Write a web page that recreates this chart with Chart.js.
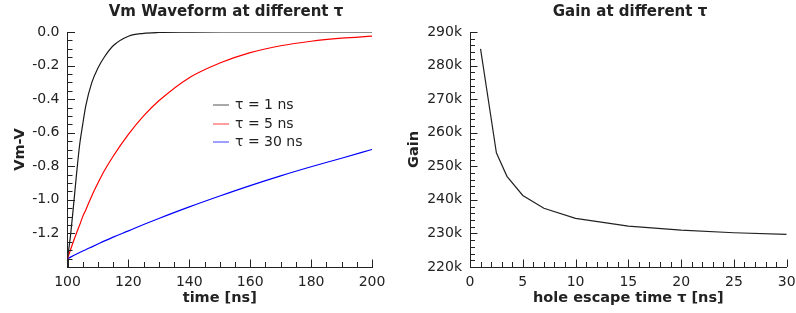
<!DOCTYPE html>
<html><head><meta charset="utf-8">
<script src="https://cdn.jsdelivr.net/npm/chart.js@4.4.1/dist/chart.umd.min.js"></script>
<style>
html,body{margin:0;padding:0;background:#fff;width:796px;height:313px;overflow:hidden}
.c{position:absolute;top:0;width:398px;height:313px}
</style></head><body>
<div class="c" style="left:0"><canvas id="c1" width="398" height="313"></canvas></div>
<div class="c" style="left:398px"><canvas id="c2" width="398" height="313"></canvas></div>
<script>
// ---- data: left chart (Vm waveform) ----
const timeNs  = [100,101,102,103,104,105,106,108,110,112,115,120,125,130,140,150,160,170,180,190,200];
const vmTau1  = [-1.35,-1.21,-1.03,-0.84,-0.67,-0.55,-0.44,-0.30,-0.215,-0.152,-0.082,-0.025,-0.008,-0.003,-0.001,0,0,0,0,0,0];
const vmTau5  = [-1.35,-1.297,-1.245,-1.196,-1.149,-1.10,-1.06,-0.975,-0.90,-0.83,-0.74,-0.61,-0.50,-0.41,-0.272,-0.185,-0.123,-0.082,-0.055,-0.037,-0.025];
const vmTau30 = [-1.35,-1.341,-1.332,-1.323,-1.314,-1.305,-1.297,-1.28,-1.263,-1.246,-1.222,-1.185,-1.147,-1.111,-1.042,-0.977,-0.915,-0.857,-0.803,-0.752,-0.70];
const seriesLabels = ['τ = 1 ns','τ = 5 ns','τ = 30 ns'];
// ---- data: right chart (Gain) ----
const tauNs = [1,2.5,3.5,5,7,10,15,20,25,30];
const gainValues = [285000,254000,247000,241300,237500,234500,232200,231000,230200,229700];

const FONT = '"DejaVu Sans", sans-serif';
const TXT = '#222';
const toXY = (xs, ys) => xs.map((x, i) => ({x, y: ys[i]}));

const innerTicks = {
  id: 'innerTicks',
  afterDatasetsDraw(chart, args, o) {
    const ctx = chart.ctx, a = chart.chartArea;
    const xs = chart.scales.x, ys = chart.scales.y;
    ctx.save();
    ctx.strokeStyle = TXT; ctx.lineWidth = 1;
    const walk = (s, minor, major, fn) => {
      const k0 = Math.round(s.min / minor), k1 = Math.round(s.max / minor);
      for (let k = k0; k <= k1; k++) {
        const v = k * minor, r = v / major;
        fn(s.getPixelForValue(v), Math.abs(r - Math.round(r)) < 1e-6 ? 7.5 : 5);
      }
    };
    walk(xs, o.xMinor, o.xMajor, (p, l) => { const x = Math.round(p) + 0.5; ctx.beginPath(); ctx.moveTo(x, a.bottom); ctx.lineTo(x, a.bottom - l); ctx.stroke(); });
    walk(ys, o.yMinor, o.yMajor, (p, l) => { const y = Math.round(p) + 0.5; ctx.beginPath(); ctx.moveTo(a.left, y); ctx.lineTo(a.left + l, y); ctx.stroke(); });
    ctx.restore();
  }
};
const plotTitle = {
  id: 'plotTitle',
  afterDraw(chart, args, o) {
    const ctx = chart.ctx;
    ctx.save();
    ctx.font = 'bold 15px ' + FONT; ctx.fillStyle = TXT;
    ctx.textAlign = 'center'; ctx.textBaseline = 'middle';
    ctx.fillText(o.text, o.x, o.y);
    ctx.restore();
  }
};
const innerLegend = {
  id: 'innerLegend',
  afterDraw(chart, args, o) {
    const ctx = chart.ctx;
    ctx.save();
    ctx.font = '14px ' + FONT; ctx.textAlign = 'left'; ctx.textBaseline = 'middle';
    chart.data.datasets.forEach((ds, i) => {
      const y = Math.round(o.y + i * o.gap);
      ctx.strokeStyle = ds.borderColor; ctx.globalAlpha = 0.75; ctx.lineWidth = 1;
      ctx.beginPath(); ctx.moveTo(o.x, y); ctx.lineTo(o.x + 16, y); ctx.stroke();
      ctx.globalAlpha = 1;
      ctx.fillStyle = TXT; ctx.fillText(ds.label, o.x + 22, y);
    });
    ctx.restore();
  }
};

function axisBase(extra) {
  return Object.assign({
    type: 'linear',
    grid: { display: false, drawTicks: false },
    border: { display: true, color: TXT, width: 1 },
  }, extra);
}
const fixX = h => s => { s.height = h; s.paddingLeft = 0; s.paddingRight = 0; };

new Chart(document.getElementById('c1'), {
  type: 'line',
  data: {
    datasets: [
      { label: seriesLabels[0], data: toXY(timeNs, vmTau1), borderColor: '#1a1a1a' },
      { label: seriesLabels[1], data: toXY(timeNs, vmTau5), borderColor: '#ff0000' },
      { label: seriesLabels[2], data: toXY(timeNs, vmTau30), borderColor: '#0000ff' },
    ].map(d => Object.assign(d, { borderWidth: 1.2, pointRadius: 0, fill: false, cubicInterpolationMode: 'monotone' }))
  },
  options: {
    responsive: false, animation: false, devicePixelRatio: 1,
    layout: { padding: { top: 32, right: 26, left: 0, bottom: 0 } },
    plugins: {
      legend: { display: false }, tooltip: { enabled: false },
      plotTitle: { text: 'Vm Waveform at different τ', x: 226, y: 12.5 },
      innerTicks: { xMinor: 5, xMajor: 20, yMinor: 0.05, yMajor: 0.2 },
      innerLegend: { x: 213, y: 105, gap: 18.7 }
    },
    scales: {
      x: axisBase({
        min: 100, max: 200,
        afterFit: fixX(46),
        ticks: { stepSize: 20, padding: 7, color: TXT, font: { family: FONT, size: 14 }, maxRotation: 0 },
        title: { display: true, text: 'time [ns]', color: TXT, font: { family: FONT, size: 14.5, weight: 'bold' }, padding: { top: 0, bottom: 6 } }
      }),
      y: axisBase({
        min: -1.4, max: 0,
        afterFit: s => { s.width = 67.5; },
        ticks: { stepSize: 0.2, padding: 8, color: TXT, font: { family: FONT, size: 14 },
          callback: v => (Math.abs(v + 1.4) < 1e-6 ? '' : Number(v).toFixed(1)) },
        title: { display: true, text: 'Vm-V', color: TXT, font: { family: FONT, size: 14.5, weight: 'bold' }, padding: { top: 12, bottom: 0 } }
      })
    }
  },
  plugins: [innerTicks, plotTitle, innerLegend]
});

new Chart(document.getElementById('c2'), {
  type: 'line',
  data: {
    datasets: [{ label: 'Gain', data: toXY(tauNs, gainValues), borderColor: '#222', borderWidth: 1.2, pointRadius: 0, fill: false, tension: 0 }]
  },
  options: {
    responsive: false, animation: false, devicePixelRatio: 1,
    layout: { padding: { top: 32, right: 9.3, left: 0, bottom: 0 } },
    plugins: {
      legend: { display: false }, tooltip: { enabled: false },
      plotTitle: { text: 'Gain at different τ', x: 232, y: 12.5 },
      innerTicks: { xMinor: 1, xMajor: 5, yMinor: 2000, yMajor: 10000 }
    },
    scales: {
      x: axisBase({
        min: 0, max: 30,
        afterFit: fixX(46),
        ticks: { stepSize: 5, padding: 7, color: TXT, font: { family: FONT, size: 14 }, maxRotation: 0 },
        title: { display: true, text: 'hole escape time τ [ns]', color: TXT, font: { family: FONT, size: 14.5, weight: 'bold' }, padding: { top: 0, bottom: 6 } }
      }),
      y: axisBase({
        min: 220000, max: 290000,
        afterFit: s => { s.width = 72; },
        ticks: { stepSize: 10000, padding: 8, color: TXT, font: { family: FONT, size: 14 }, callback: v => (v / 1000) + 'k' },
        title: { display: true, text: 'Gain', color: TXT, font: { family: FONT, size: 14.5, weight: 'bold' }, padding: { top: 8, bottom: 0 } }
      })
    }
  },
  plugins: [innerTicks, plotTitle]
});
</script>
</body></html>
